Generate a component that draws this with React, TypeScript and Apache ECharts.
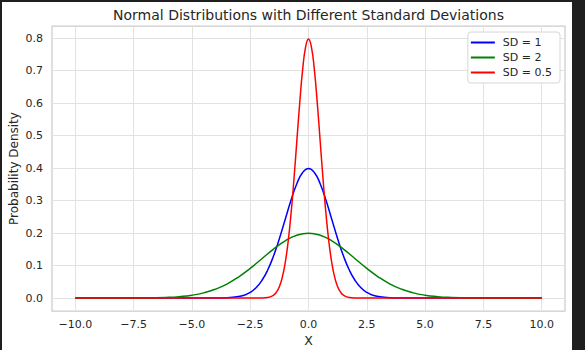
import React, { useEffect, useRef } from "react";
import * as echarts from "echarts";

const TITLE = "Normal Distributions with Different Standard Deviations";
const SERIES_NAMES = ["SD = 1", "SD = 2", "SD = 0.5"];
const SERIES_COLORS = ["#0000ff", "#008000", "#ff0000"];

const X_TICKS = [-10, -7.5, -5, -2.5, 0, 2.5, 5, 7.5, 10];
const Y_TICKS = [0, 0.1, 0.2, 0.3, 0.4, 0.5, 0.6, 0.7, 0.8];

// SD = 1
const X_SD1 = [-10, -5, -4, -3.5, -3, -2.75, -2.5, -2.25, -2, -1.75, -1.5, -1.25, -1, -0.75, -0.5, -0.25, 0,
  0.25, 0.5, 0.75, 1, 1.25, 1.5, 1.75, 2, 2.25, 2.5, 2.75, 3, 3.5, 4, 5, 10];
const Y_SD1 = [0, 0, 0.0001, 0.0009, 0.0044, 0.0091, 0.0175, 0.0317, 0.054, 0.0863, 0.1295, 0.1826, 0.242, 0.301, 0.352, 0.3867, 0.399,
  0.3867, 0.352, 0.301, 0.242, 0.1826, 0.1295, 0.0863, 0.054, 0.0317, 0.0175, 0.0091, 0.0044, 0.0009, 0.0001, 0, 0];

// SD = 2
const X_SD2 = [-10, -9, -8, -7, -6, -5.5, -5, -4.5, -4, -3.5, -3, -2.5, -2, -1.5, -1, -0.5, 0,
  0.5, 1, 1.5, 2, 2.5, 3, 3.5, 4, 4.5, 5, 5.5, 6, 7, 8, 9, 10];
const Y_SD2 = [0, 0, 0.0001, 0.0004, 0.0022, 0.0046, 0.0088, 0.0159, 0.027, 0.0431, 0.0648, 0.0913, 0.121, 0.1506, 0.176, 0.1934, 0.1995,
  0.1934, 0.176, 0.1506, 0.121, 0.0913, 0.0648, 0.0431, 0.027, 0.0159, 0.0088, 0.0046, 0.0022, 0.0004, 0.0001, 0, 0];

// SD = 0.5
const X_SD05 = [-10, -2.5, -2, -1.75, -1.5, -1.375, -1.25, -1.125, -1, -0.875, -0.75, -0.625, -0.5, -0.375, -0.25, -0.125, 0,
  0.125, 0.25, 0.375, 0.5, 0.625, 0.75, 0.875, 1, 1.125, 1.25, 1.375, 1.5, 1.75, 2, 2.5, 10];
const Y_SD05 = [0, 0, 0.0003, 0.0017, 0.0089, 0.0182, 0.035, 0.0635, 0.108, 0.1726, 0.259, 0.365, 0.484, 0.602, 0.704, 0.773, 0.798,
  0.773, 0.704, 0.602, 0.484, 0.365, 0.259, 0.1726, 0.108, 0.0635, 0.035, 0.0182, 0.0089, 0.0017, 0.0003, 0, 0];

const zip = (xs: number[], ys: number[]) => xs.map((x, i) => [x, ys[i]]);
const FONT = "DejaVu Sans";
const TXT = "#262626";

const fmt = (v: number) => (v < 0 ? "\u2212" : "") + Math.abs(v).toFixed(1);

export default function App() {
  const ref = useRef<HTMLDivElement>(null);
  useEffect(() => {
    document.body.style.margin = "0";
    const chart = echarts.init(ref.current!, null, { renderer: "svg" });
    const data = [zip(X_SD1, Y_SD1), zip(X_SD2, Y_SD2), zip(X_SD05, Y_SD05)];
    chart.setOption({
      animation: false,
      backgroundColor: "#ffffff",
      grid: {
        left: 52, right: 20, top: 26, bottom: 39,
        outerBoundsMode: "none", containLabel: false,
        show: true, borderColor: "#cccccc", borderWidth: 1.25, backgroundColor: "transparent",
      },
      xAxis: {
        type: "value", min: -11, max: 11,
        name: "X", nameLocation: "middle", nameGap: 23, nameMoveOverlap: false,
        nameTextStyle: { fontFamily: FONT, fontSize: 12.5, color: TXT },
        axisLine: { show: false },
        axisTick: { show: false, customValues: X_TICKS },
        axisLabel: { customValues: X_TICKS, formatter: fmt, fontFamily: FONT, fontSize: 11, color: TXT, margin: 8 },
        splitLine: { show: true, lineStyle: { color: "#e2e2e2", width: 1 } },
      },
      yAxis: {
        type: "value", min: -0.0399, max: 0.8378,
        name: "Probability Density", nameLocation: "middle", nameGap: 32, nameMoveOverlap: false,
        nameTextStyle: { fontFamily: FONT, fontSize: 12, color: TXT },
        axisLine: { show: false },
        axisTick: { show: false, customValues: Y_TICKS },
        axisLabel: { customValues: Y_TICKS, formatter: (v: number) => v.toFixed(1), fontFamily: FONT, fontSize: 11, color: TXT, margin: 9 },
        splitLine: { show: true, lineStyle: { color: "#e2e2e2", width: 1 } },
      },
      legend: {
        orient: "vertical", right: 25, top: 32,
        data: SERIES_NAMES,
        icon: "rect",
        itemWidth: 24, itemHeight: 2, itemGap: 4,
        padding: [5, 8, 5, 3],
        backgroundColor: "#ffffff",
        borderColor: "#d6d6d6", borderWidth: 1, borderRadius: 3,
        textStyle: { fontFamily: FONT, fontSize: 11, color: TXT, padding: [0, 0, 0, 3] },
      },
      series: SERIES_NAMES.map((name, i) => ({
        name, type: "line", data: data[i], symbol: "none",
        smooth: 0.5,
        lineStyle: { color: SERIES_COLORS[i], width: 1.5 },
        itemStyle: { color: SERIES_COLORS[i] },
      })),
      graphic: [
        { type: "text", x: 308.5, y: 15, style: { text: TITLE, fontFamily: FONT, fontSize: 14, fill: TXT, textAlign: "center", textVerticalAlign: "middle" } },
        { type: "rect", shape: { x: 0, y: 0, width: 585, height: 2 }, style: { fill: "#1f1f1f" }, z: 100 },
        { type: "rect", shape: { x: 0, y: 0, width: 2, height: 350 }, style: { fill: "#1f1f1f" }, z: 100 },
        { type: "rect", shape: { x: 572, y: 0, width: 13, height: 350 }, style: { fill: "#1f1f1f" }, z: 100 },
      ],
    });
    return () => chart.dispose();
  }, []);
  return <div ref={ref} style={{ width: 585, height: 350 }} />;
}
